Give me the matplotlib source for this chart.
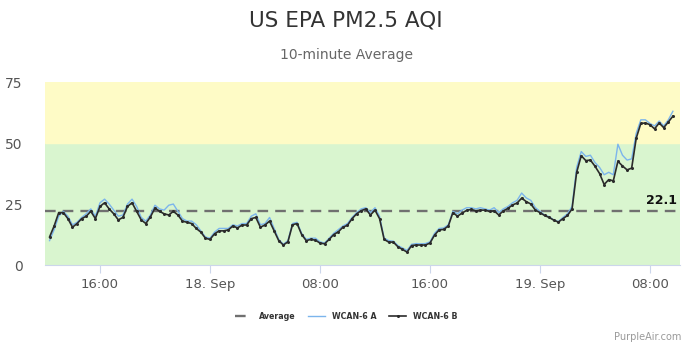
import numpy as np
import matplotlib
matplotlib.use("Agg")
import matplotlib.pyplot as plt

# ----data (hours from 17 Sep 00:00, 20-minute samples)----
t_start = 12 + 20 / 60
step = 1 / 3

wcan_b = [11.5, 16, 21.5, 21.5, 19, 15.5, 17, 19, 20, 22,
          19, 24, 25.5, 23, 21, 18.5, 19.5, 24, 25.5, 22,
          18.5, 17, 19.7, 23.4, 22, 21, 20.5, 22, 20.5, 18,
          17.5, 17, 15, 13.5, 11, 10.5, 12.8, 14, 14, 14.4,
          16, 15.2, 16.4, 16.4, 19, 19.5, 15.5, 16.4, 18, 14,
          10, 8.2, 9.5, 16.5, 17, 12.5, 10, 10.5, 10.2, 9,
          8.7, 10.5, 12.5, 13.6, 15.5, 16.3, 19, 21, 22.3, 23,
          20.5, 22.5, 19, 10.5, 9.4, 9.4, 7.5, 6.4, 5.3, 8,
          8.2, 8.2, 8.2, 9, 12.3, 14.4, 14.6, 16, 21.5, 20,
          21.3, 22.4, 22.8, 22.2, 22.5, 22.5, 22, 22.2, 20.5, 22.2,
          23.2, 24.6, 25.4, 27.4, 26, 25, 22.5, 21.5, 20.3, 19.5,
          18.4, 17.6, 19, 20.3, 23, 38, 44.8, 42.8, 43, 40.5,
          37.5, 33, 35, 34.5, 42.5, 40.6, 39, 39.7, 52, 58,
          58.2, 57.5, 55.8, 58.2, 56.3, 58.6, 61]

wcan_a = [10, 14.5, 20, 22, 20, 16.5, 17.5, 19.5, 21, 23,
          20, 25.5, 27, 25, 22.5, 20, 20.5, 25, 27, 24,
          19.5, 18, 20.5, 24.5, 23, 22.5, 24.5, 25, 22, 19,
          18, 18, 16.5, 14, 11.5, 11, 13.5, 15, 15, 15,
          16.5, 16, 17, 17, 20, 21, 16.5, 17, 19.5, 15,
          10.5, 8.5, 10, 17, 17.5, 13, 10.5, 11, 11, 9.5,
          9, 11, 13, 14.5, 16, 17, 19.5, 21.5, 23, 23.5,
          21.5, 23.5, 20, 11, 10, 9.8, 8, 7, 6, 8.5,
          8.8, 8.7, 8.8, 9.5, 13, 15, 15.2, 16.5, 22, 21,
          22.5, 23.5, 23.5, 23, 23.5, 23, 22.5, 23.5, 21.5, 23,
          24, 25.5, 26.5, 29.5, 27.5, 26.5, 23.5, 22, 20.5, 19.8,
          18.5, 17.8, 19.5, 21, 24, 40, 46.5, 44.5, 45, 42,
          40, 37, 38, 37, 49.5, 45, 43, 43.5, 54, 59.5,
          59.5, 58, 57, 59, 57, 59.5, 63]

average = 22.1
hours = t_start + step * np.arange(len(wcan_b))

tick_hours = [16, 24, 32, 40, 48, 56]
tick_labels = ["16:00", "18. Sep", "08:00", "16:00", "19. Sep", "08:00"]
y_ticks = [0, 25, 50, 75]

# ----figure----
fig = plt.figure(figsize=(6.92, 3.46), dpi=100)
ax = fig.add_axes([0.065, 0.234, 0.918, 0.529])

ax.axhspan(0, 50, color="#d9f5cf", zorder=0)
ax.axhspan(50, 75, color="#fefbc6", zorder=0)

ax.axhline(average, color="#707070", lw=1.7, dashes=(4.5, 3), zorder=2, label="Average")
ax.plot(hours, wcan_a, color="#7cb5ec", lw=1.0, zorder=3, label="WCAN-6 A")
ax.plot(hours, wcan_b, color="#2b2b2b", lw=1.2, zorder=4, marker="o", markersize=1.2, label="WCAN-6 B")
ax.text(58.0, average + 1.8, f"{average}", ha="right", va="bottom", fontsize=9,
        fontweight="bold", color="#111111")

ax.set_xlim(12.0, 58.2)
ax.set_ylim(0, 75)
ax.set_xticks(tick_hours)
ax.set_xticklabels(tick_labels)
ax.set_yticks(y_ticks)
for s in ["top", "right", "left"]:
    ax.spines[s].set_visible(False)
ax.spines["bottom"].set_color("#ccd6eb")
ax.tick_params(axis="x", colors="#ccd6eb", length=6, labelcolor="#555555", labelsize=9.5, pad=3)
ax.tick_params(axis="y", length=0, labelcolor="#555555", labelsize=10, pad=16)

fig.text(0.5, 0.94, "US EPA PM2.5 AQI", ha="center", va="center", fontsize=15.5, color="#333333")
fig.text(0.5, 0.84, "10-minute Average", ha="center", va="center", fontsize=10, color="#666666")

leg = fig.legend(loc="center", bbox_to_anchor=(0.5, 0.085), ncol=3, frameon=False,
                 fontsize=5.7, handlelength=2.2, columnspacing=1.6)
for txt in leg.get_texts():
    txt.set_fontweight("bold")
    txt.set_color("#333333")

fig.text(0.985, 0.025, "PurpleAir.com", ha="right", va="center", fontsize=7, color="#999999")

plt.savefig("out.png", dpi=100)
